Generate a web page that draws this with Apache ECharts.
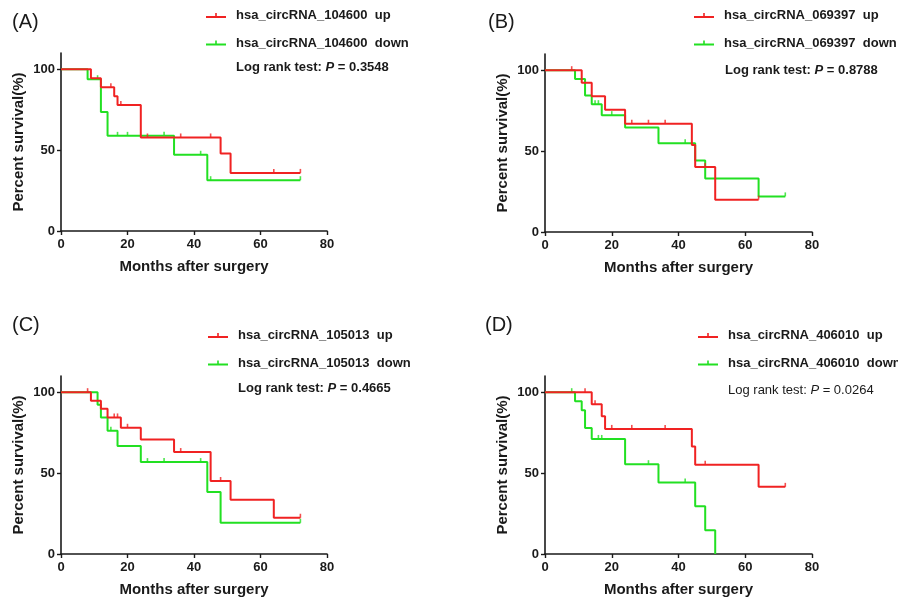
<!DOCTYPE html>
<html>
<head>
<meta charset="utf-8">
<script src="https://cdn.jsdelivr.net/npm/echarts@6/dist/echarts.min.js"></script>
<style>
html,body{margin:0;padding:0;background:#fff;}
#chart{width:898px;height:598px;}
</style>
</head>
<body>
<div id="chart"></div>
<script>
// ---- tick labels ----
const xTicks = [0, 20, 40, 60, 80];
const yTicks = [0, 50, 100];
const xTitle = 'Months after surgery';
const yTitle = 'Percent survival(%)';

// ---- panel labels / names ----
const panelLabels = ['(A)', '(B)', '(C)', '(D)'];
const circNames = ['hsa_circRNA_104600', 'hsa_circRNA_069397', 'hsa_circRNA_105013', 'hsa_circRNA_406010'];
const pValues = ['0.3548', '0.8788', '0.4665', '0.0264'];

// ---- survival steps [month, percent] ----
const A_up = [[0,100],[9,94.4],[12,88.9],[16,83.3],[17,77.8],[24,57.8],[48,47.9],[51,35.9],[72,35.9]];
const A_up_censor = [[15,88.9],[18,77.8],[26,57.8],[36,57.8],[45,57.8],[64,35.9],[72,35.9]];
const A_down = [[0,100],[8,93.8],[12,73.5],[14,58.8],[34,47.1],[44,31.4],[72,31.4]];
const A_down_censor = [[11,93.8],[17,58.8],[20,58.8],[31,58.8],[42,47.1],[45,31.4],[72,31.4]];

const B_up = [[0,100],[11,92.3],[14,83.9],[18,75.5],[24,66.9],[44,53.7],[45,40.1],[51,20],[64,20]];
const B_up_censor = [[8,100],[26,66.9],[31,66.9],[36,66.9],[48,40.1],[64,20]];
const B_down = [[0,100],[9,94.6],[12,84.3],[14,79],[17,72.2],[24,64.6],[34,54.9],[45,44.2],[48,33.1],[64,22],[72,22]];
const B_down_censor = [[15,79],[16,79],[20,72.2],[42,54.9],[72,22]];

const C_up = [[0,100],[9,94.7],[12,89.7],[14,84.4],[18,78],[24,70.8],[34,63],[45,45.1],[51,33.5],[64,22.4],[72,22.4]];
const C_up_censor = [[8,100],[16,84.4],[17,84.4],[20,78],[36,63],[48,45.1],[72,22.4]];
const C_down = [[0,100],[11,92.2],[12,84.4],[14,76.1],[17,66.7],[24,56.8],[44,38.3],[48,19.3],[72,19.3]];
const C_down_censor = [[15,76.1],[26,56.8],[31,56.8],[42,56.8],[72,19.3]];

const D_up = [[0,100],[14,92.6],[17,85.2],[18,77.3],[44,66.4],[45,55.1],[64,41.5],[72,41.5]];
const D_up_censor = [[12,100],[15,92.6],[20,77.3],[26,77.3],[36,77.3],[48,55.1],[72,41.5]];
const D_down = [[0,100],[9,94.4],[11,88.9],[12,77.8],[14,71.1],[24,55.5],[34,44.2],[45,29.5],[48,14.7],[51,0]];
const D_down_censor = [[8,100],[16,71.1],[17,71.1],[31,55.5],[42,44.2]];

const upData = [A_up, B_up, C_up, D_up];
const upCensor = [A_up_censor, B_up_censor, C_up_censor, D_up_censor];
const downData = [A_down, B_down, C_down, D_down];
const downCensor = [A_down_censor, B_down_censor, C_down_censor, D_down_censor];

// ---- layout ----
const FONT = 'Liberation Sans, Arial, sans-serif';
const RED = '#f02222';
const GREEN = '#22e022';
const grids = [
  {left: 61, top: 53, width: 266, height: 178},
  {left: 545, top: 54, width: 267, height: 178},
  {left: 61, top: 376, width: 266, height: 178},
  {left: 545, top: 376, width: 267, height: 178}
];
const panelPos = [[12, 12], [488, 12], [12, 315], [485, 315]];
const legendPos = [[206, 8.5], [694, 8.5], [208, 328.5], [698, 328.5]];
const logPos = [[236, 60.5], [725, 63.5], [238, 381.5], [728, 383.5]];
const logBold = [true, true, true, false];

const ICON = 'path://M0,4 L20,4 L20,6 L0,6 Z M9.2,1 L10.8,1 L10.8,4 L9.2,4 Z';

const option = {
  animation: false,
  backgroundColor: '#ffffff',
  textStyle: {fontFamily: FONT},
  grid: grids.map(g => Object.assign({containLabel: false, outerBoundsMode: 'none'}, g)),
  title: [],
  legend: [],
  xAxis: [],
  yAxis: [],
  series: []
};

for (let i = 0; i < 4; i++) {
  option.xAxis.push({
    type: 'value', gridIndex: i, min: xTicks[0], max: xTicks[xTicks.length - 1], interval: 20,
    name: xTitle, nameLocation: 'middle', nameGap: 28,
    nameTextStyle: {fontFamily: FONT, fontWeight: 'bold', fontSize: 15, color: '#1a1a1a'},
    axisLine: {show: true, onZero: false, lineStyle: {color: '#1a1a1a', width: 1.6}},
    axisTick: {show: true, length: 4, lineStyle: {color: '#1a1a1a', width: 1.4}},
    axisLabel: {fontFamily: FONT, fontWeight: 'bold', fontSize: 13, color: '#1a1a1a', margin: 7},
    splitLine: {show: false}
  });
  option.yAxis.push({
    type: 'value', gridIndex: i, min: 0, max: 110,
    name: yTitle, nameLocation: 'middle', nameGap: 35,
    nameTextStyle: {fontFamily: FONT, fontWeight: 'bold', fontSize: 15, color: '#1a1a1a'},
    axisLine: {show: true, onZero: false, lineStyle: {color: '#1a1a1a', width: 1.6}},
    axisTick: {show: true, length: 4, customValues: yTicks, lineStyle: {color: '#1a1a1a', width: 1.4}},
    axisLabel: {fontFamily: FONT, fontWeight: 'bold', fontSize: 13, color: '#1a1a1a', margin: 6, customValues: yTicks},
    splitLine: {show: false}
  });

  const upName = circNames[i] + '  up';
  const downName = circNames[i] + '  down';

  option.series.push({
    type: 'line', name: downName, xAxisIndex: i, yAxisIndex: i, data: downData[i],
    step: 'end', showSymbol: false, symbol: 'none', z: 2,
    lineStyle: {color: GREEN, width: 2}, itemStyle: {color: GREEN}
  });
  option.series.push({
    type: 'scatter', name: downName + ' censored', xAxisIndex: i, yAxisIndex: i, data: downCensor[i],
    symbol: 'rect', symbolSize: [1.6, 4], symbolOffset: [0, -2], z: 2,
    itemStyle: {color: GREEN}
  });
  option.series.push({
    type: 'line', name: upName, xAxisIndex: i, yAxisIndex: i, data: upData[i],
    step: 'end', showSymbol: false, symbol: 'none', z: 3,
    lineStyle: {color: RED, width: 2}, itemStyle: {color: RED}
  });
  option.series.push({
    type: 'scatter', name: upName + ' censored', xAxisIndex: i, yAxisIndex: i, data: upCensor[i],
    symbol: 'rect', symbolSize: [1.6, 4], symbolOffset: [0, -2], z: 3,
    itemStyle: {color: RED}
  });

  option.legend.push({
    orient: 'vertical', left: legendPos[i][0], top: legendPos[i][1], padding: 0,
    itemWidth: 20, itemHeight: 5, itemGap: 13.5,
    icon: ICON, selectedMode: false,
    data: [upName, downName],
    textStyle: {fontFamily: FONT, fontWeight: 'bold', fontSize: 13, color: '#1a1a1a', lineHeight: 14, padding: [0, 0, 0, 5]}
  });

  option.title.push({
    text: panelLabels[i], left: panelPos[i][0], top: panelPos[i][1], padding: 0,
    textStyle: {fontFamily: FONT, fontWeight: 'normal', fontSize: 20, color: '#1a1a1a'}
  });
  const w = logBold[i] ? 'bold' : 'normal';
  option.title.push({
    text: '{a|Log rank test: }{p|P}{a| = ' + pValues[i] + '}',
    left: logPos[i][0], top: logPos[i][1], padding: 0,
    textStyle: {
      rich: {
        a: {fontFamily: FONT, fontWeight: w, fontSize: 13, color: '#1a1a1a', lineHeight: 14},
        p: {fontFamily: FONT, fontWeight: w, fontStyle: 'italic', fontSize: 13, color: '#1a1a1a', lineHeight: 14}
      }
    }
  });
}

const chart = echarts.init(document.getElementById('chart'), null, {renderer: 'canvas'});
chart.setOption(option);
</script>
</body>
</html>
